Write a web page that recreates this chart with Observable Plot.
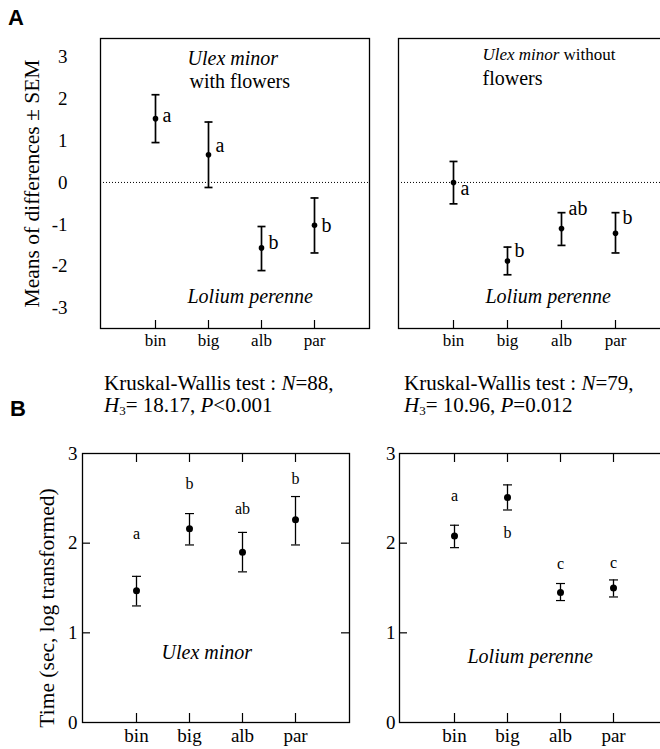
<!DOCTYPE html>
<html><head><meta charset="utf-8">
<script src="https://cdn.jsdelivr.net/npm/d3@7"></script>
<script src="https://cdn.jsdelivr.net/npm/@observablehq/plot@0.6"></script>
<style>
html,body{margin:0;padding:0;background:#fff;}
#fig{position:relative;width:660px;height:749px;overflow:hidden;background:#fff;font-family:"Liberation Serif","Times New Roman",serif;color:#000;}
.panel{position:absolute;display:block;}
.panel text{font-family:"Liberation Serif","Times New Roman",serif;}
.tag{position:absolute;font-family:"Liberation Sans",Arial,sans-serif;font-weight:bold;font-size:22px;line-height:1;}
.kw{position:absolute;font-size:21px;line-height:22px;white-space:nowrap;}
.kw sub{font-size:13px;vertical-align:-3px;line-height:0;}
</style></head><body><div id="fig"></div>
<script>
// ---------- data ----------
const categories = ["bin", "big", "alb", "par"];

// Panel A, left: Ulex minor with flowers vs Lolium perenne (means of differences ± SEM)
const aWithMean = [1.52, 0.66, -1.56, -1.02];
const aWithLow = [0.95, -0.12, -2.10, -1.68];
const aWithHigh = [2.09, 1.44, -1.05, -0.37];
const aWithLetters = ["a", "a", "b", "b"];
const aWithLetterY = [1.60, 0.88, -1.43, -1.02];

// Panel A, right: Ulex minor without flowers vs Lolium perenne
const aWithoutMean = [0.00, -1.87, -1.10, -1.21];
const aWithoutLow = [-0.51, -2.20, -1.50, -1.68];
const aWithoutHigh = [0.50, -1.54, -0.72, -0.72];
const aWithoutLetters = ["a", "b", "ab", "b"];
const aWithoutLetterY = [-0.14, -1.62, -0.62, -0.83];

const aTicks = [-3, -2, -1, 0, 1, 2, 3];
const aDomain = [-3.48, 3.43];

// Panel B, left: time on Ulex minor (sec, log transformed)
const bUlexMean = [1.47, 2.16, 1.90, 2.26];
const bUlexLow = [1.30, 1.98, 1.68, 1.98];
const bUlexHigh = [1.63, 2.33, 2.12, 2.52];
const bUlexLetters = ["a", "b", "ab", "b"];
const bUlexLetterY = [2.10, 2.66, 2.38, 2.72];

// Panel B, right: time on Lolium perenne
const bLoliumMean = [2.08, 2.51, 1.45, 1.50];
const bLoliumLow = [1.95, 2.37, 1.36, 1.40];
const bLoliumHigh = [2.20, 2.65, 1.55, 1.59];
const bLoliumLetters = ["a", "b", "c", "c"];
const bLoliumLetterY = [2.53, 2.11, 1.77, 1.78];

const bTicks = [0, 1, 2, 3];
const bInnerTicks = [1, 2];
const bDomain = [0, 3];

// ---------- helpers ----------
const fig = document.getElementById("fig");
const serif = '"Liberation Serif", "Times New Roman", serif';

// horizontal cap symbol for error bars
const capSymbol = {
  draw(context, size) {
    const w = Math.sqrt(size / Math.PI);
    context.moveTo(-w, 0);
    context.lineTo(w, 0);
  }
};

function rowsOf(mean, low, high, letters, letterY) {
  return categories.map((c, i) => ({cat: c, mean: mean[i], low: low[i], high: high[i], letter: letters[i], ly: letterY[i]}));
}
function place(el, left, top) {
  el.classList.add("panel");
  el.style.left = left + "px";
  el.style.top = top + "px";
  fig.appendChild(el);
}
function html(cls, left, top, inner) {
  const d = document.createElement("div");
  d.className = cls;
  d.style.left = left + "px";
  d.style.top = top + "px";
  d.innerHTML = inner;
  fig.appendChild(d);
}
function txt(value, opts) {
  return Plot.text([value], {fontFamily: serif, ...opts});
}
function makePlot({width, height, margin, domain, marks, yAxisOff}) {
  return Plot.plot({
    width, height,
    marginTop: margin[0], marginRight: margin[1], marginBottom: margin[2], marginLeft: margin[3],
    x: {type: "point", domain: categories, padding: 1},
    y: {domain, ...(yAxisOff ? {axis: null} : {})},
    style: {background: "transparent", fontFamily: serif, fontSize: "19px", color: "#000", overflow: "visible"},
    marks
  });
}
function errorMarks(rows, capR, barW, capW, dotR) {
  return [
    Plot.ruleX(rows, {x: "cat", y1: "low", y2: "high", strokeWidth: barW}),
    Plot.dot(rows, {x: "cat", y: "low", symbol: capSymbol, r: capR, stroke: "#000", fill: "none", strokeWidth: capW}),
    Plot.dot(rows, {x: "cat", y: "high", symbol: capSymbol, r: capR, stroke: "#000", fill: "none", strokeWidth: capW}),
    Plot.dot(rows, {x: "cat", y: "mean", r: dotR, fill: "#000"})
  ];
}

// ---------- Panel A ----------
function aMarks(rows, innerH, letterDx) {
  return [
    Plot.ruleY([0], {stroke: "#000", strokeWidth: 1, strokeDasharray: "1,2"}),
    ...errorMarks(rows, 4, 1.7, 1.7, 2.8),
    Plot.text(rows, {x: "cat", y: "ly", text: "letter", dx: letterDx, textAnchor: "start", fontSize: 20, fontFamily: serif}),
    Plot.tickX(categories, {x: d => d, insetTop: innerH - 8, strokeWidth: 1.2}),
    Plot.frame({strokeWidth: 1.3}),
    Plot.axisX({tickSize: 0, tickPadding: 5, fontSize: 17, fontFamily: serif, label: null})
  ];
}

const aLeftRows = rowsOf(aWithMean, aWithLow, aWithHigh, aWithLetters, aWithLetterY);
const aLeft = makePlot({
  width: 380, height: 360, margin: [38, 11, 32, 100], domain: aDomain,
  marks: [
    ...aMarks(aLeftRows, 290, 7),
    Plot.axisY({ticks: aTicks, tickSize: 0, tickPadding: 33, tickFormat: d => String(d), fontSize: 19, fontFamily: serif, label: null}),
    txt("Means of differences \u00b1 SEM", {frameAnchor: "left", textAnchor: "middle", rotate: -90, dx: -68, fontSize: 21.5}),
    txt("Ulex minor", {frameAnchor: "top-left", dx: 87, dy: 12, textAnchor: "start", fontStyle: "italic", fontSize: 20}),
    txt("with flowers", {frameAnchor: "top-left", dx: 89, dy: 35, textAnchor: "start", fontSize: 20}),
    txt("Lolium perenne", {frameAnchor: "bottom-left", dx: 87, dy: -26, textAnchor: "start", fontStyle: "italic", fontSize: 20})
  ]
});
place(aLeft, 0, 0);

const aRightRows = rowsOf(aWithoutMean, aWithoutLow, aWithoutHigh, aWithoutLetters, aWithoutLetterY);
const aRight = makePlot({
  width: 300, height: 360, margin: [38, 11, 32, 18], domain: aDomain, yAxisOff: true,
  marks: [
    ...aMarks(aRightRows, 290, 7),
    txt("Ulex minor", {frameAnchor: "top-left", dx: 84, dy: 9, textAnchor: "start", fontStyle: "italic", fontSize: 17}),
    txt("without", {frameAnchor: "top-left", dx: 165, dy: 9, textAnchor: "start", fontSize: 17}),
    txt("flowers", {frameAnchor: "top-left", dx: 84, dy: 32, textAnchor: "start", fontSize: 20}),
    txt("Lolium perenne", {frameAnchor: "bottom-left", dx: 87, dy: -26, textAnchor: "start", fontStyle: "italic", fontSize: 20})
  ]
});
place(aRight, 380, 0);

// ---------- Panel B ----------
function bMarks(rows, innerW, innerH) {
  return [
    ...errorMarks(rows, 4.5, 1.3, 1.2, 3.5),
    Plot.text(rows, {x: "cat", y: "ly", text: "letter", fontSize: 16, fontFamily: serif}),
    Plot.tickX(categories, {x: d => d, insetTop: innerH - 9, strokeWidth: 1.2}),
    Plot.tickX(categories, {x: d => d, insetBottom: innerH - 9, strokeWidth: 1.2}),
    Plot.tickY(bInnerTicks, {y: d => d, insetRight: innerW - 8, strokeWidth: 1.2}),
    Plot.tickY(bInnerTicks, {y: d => d, insetLeft: innerW - 8, strokeWidth: 1.2}),
    Plot.frame({strokeWidth: 1.3}),
    Plot.axisX({tickSize: 0, tickPadding: 6, fontSize: 19, fontFamily: serif, label: null})
  ];
}

const bLeftRows = rowsOf(bUlexMean, bUlexLow, bUlexHigh, bUlexLetters, bUlexLetterY);
const bLeft = makePlot({
  width: 360, height: 329, margin: [33, 11, 27, 82], domain: bDomain,
  marks: [
    ...bMarks(bLeftRows, 267, 269),
    Plot.axisY({ticks: bTicks, tickSize: 0, tickPadding: 5, tickFormat: d => String(d), fontSize: 19, fontFamily: serif, label: null}),
    txt("Time (sec, log transformed)", {frameAnchor: "left", textAnchor: "middle", rotate: -90, dx: -35, dy: 20, fontSize: 21.5}),
    txt("Ulex minor", {frameAnchor: "bottom-left", dx: 79, dy: -64, textAnchor: "start", fontStyle: "italic", fontSize: 20})
  ]
});
place(bLeft, 0, 420);

const bRightRows = rowsOf(bLoliumMean, bLoliumLow, bLoliumHigh, bLoliumLetters, bLoliumLetterY);
const bRight = makePlot({
  width: 300, height: 329, margin: [33, 12, 27, 19], domain: bDomain,
  marks: [
    ...bMarks(bRightRows, 269, 269),
    Plot.axisY({ticks: bTicks, tickSize: 0, tickPadding: 4, tickFormat: d => String(d), fontSize: 19, fontFamily: serif, label: null}),
    txt("Lolium perenne", {frameAnchor: "bottom-left", dx: 68, dy: -60, textAnchor: "start", fontStyle: "italic", fontSize: 20})
  ]
});
place(bRight, 380, 420);

// ---------- captions and panel tags ----------
html("tag", 8, 7, "A");
html("tag", 10, 398, "B");
html("kw", 104, 372, "Kruskal-Wallis test : <i>N</i>=88,<br><i>H</i><sub>3</sub>= 18.17, <i>P</i>&lt;0.001");
html("kw", 404, 372, "Kruskal-Wallis test : <i>N</i>=79,<br><i>H</i><sub>3</sub>= 10.96, <i>P</i>=0.012");
</script></body></html>
